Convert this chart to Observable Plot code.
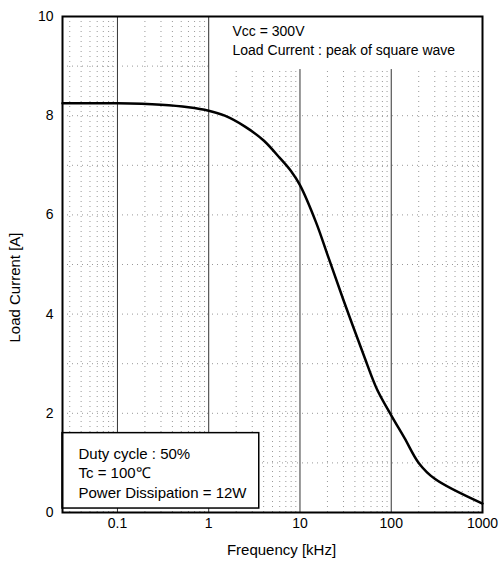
<!DOCTYPE html>
<html>
<head>
<meta charset="utf-8">
<script src="https://cdn.jsdelivr.net/npm/d3@7"></script>
<script src="https://cdn.jsdelivr.net/npm/@observablehq/plot@0.6"></script>
<style>
  html, body { margin: 0; padding: 0; background: #fff; }
  #chart svg { display: block; }
</style>
</head>
<body>
<div id="chart"></div>
<script>
// Data
const frequencyKHz = [0.025, 0.1, 0.3, 0.6, 1, 1.5, 2.5, 4, 6, 8, 10, 15, 20, 30, 50, 70, 100, 140, 200, 300, 1000];
const loadCurrentA = [8.25, 8.25, 8.22, 8.17, 8.1, 8.0, 7.78, 7.5, 7.15, 6.88, 6.6, 5.85, 5.2, 4.28, 3.17, 2.48, 1.96, 1.5, 1.0, 0.68, 0.18];

const xTicks = [0.1, 1, 10, 100, 1000];
const xTickLabels = ["0.1", "1", "10", "100", "1000"];
const yTicks = [0, 2, 4, 6, 8, 10];
const majorGridX = [0.1, 1, 10, 100];
const minorGridX = [0.03, 0.04, 0.05, 0.06, 0.07, 0.08, 0.09,
                    0.2, 0.3, 0.4, 0.5, 0.6, 0.7, 0.8, 0.9,
                    2, 3, 4, 5, 6, 7, 8, 9,
                    20, 30, 40, 50, 60, 70, 80, 90,
                    200, 300, 400, 500, 600, 700, 800, 900];
const minorGridY = [1, 2, 3, 4, 5, 6, 7, 8, 9];

const noteTop = "Vcc = 300V\nLoad Current : peak of square wave";
const noteBottom = "Duty cycle : 50%\nTc = 100\u2103\nPower Dissipation = 12W";
const xLabel = "Frequency [kHz]";
const yLabel = "Load Current [A]";

const data = frequencyKHz.map((f, i) => ({f, a: loadCurrentA[i]}));

const chart = Plot.plot({
  width: 502,
  height: 565,
  marginLeft: 62,
  marginRight: 20,
  marginTop: 16,
  marginBottom: 53,
  style: {fontFamily: "'Liberation Sans', Arial, sans-serif", fontSize: "14px", color: "#000", background: "#fff"},
  x: {type: "log", domain: [0.025, 1000], ticks: xTicks, tickFormat: (d) => xTickLabels[xTicks.indexOf(d)], tickSize: 0, tickPadding: 6, label: null},
  y: {domain: [0, 10], ticks: yTicks, tickSize: 0, tickPadding: 9, label: null},
  marks: [
    Plot.ruleX(minorGridX, {stroke: "#999", strokeWidth: 1, strokeDasharray: "1,4"}),
    Plot.ruleY(minorGridY, {stroke: "#999", strokeWidth: 1, strokeDasharray: "1,4"}),
    Plot.ruleX(majorGridX, {stroke: "#333", strokeWidth: 1}),
    // white background of the top-right note
    Plot.rect([0], {x1: 1, x2: 1000, y1: 8.93, y2: 10, fill: "#fff"}),
    Plot.ruleX([1], {y1: 8.93, y2: 10, stroke: "#333", strokeWidth: 1}),
    Plot.line(data, {x: "f", y: "a", curve: "catmull-rom", stroke: "#000", strokeWidth: 2.5}),
    // bottom-left note box
    Plot.rect([0], {x1: 0.025, x2: 3.58, y1: 0.08, y2: 1.6, fill: "#fff", stroke: "#000", strokeWidth: 1.5}),
    Plot.text([noteTop], {frameAnchor: "top-left", dx: 170, dy: 6, lineAnchor: "top", textAnchor: "start", lineHeight: 1.35, fontSize: 14, letterSpacing: -0.15}),
    Plot.text([noteBottom], {frameAnchor: "bottom-left", dx: 16, dy: -15, lineAnchor: "bottom", textAnchor: "start", lineHeight: 1.27, fontSize: 15}),
    Plot.text([xLabel], {frameAnchor: "bottom", dx: 9, dy: 38, lineAnchor: "middle", textAnchor: "middle", fontSize: 15}),
    Plot.text([yLabel], {frameAnchor: "left", dx: -47, dy: 23, rotate: -90, lineAnchor: "middle", textAnchor: "middle", fontSize: 15}),
    Plot.frame({stroke: "#000", strokeWidth: 2})
  ]
});

document.getElementById("chart").appendChild(chart);
</script>
</body>
</html>
